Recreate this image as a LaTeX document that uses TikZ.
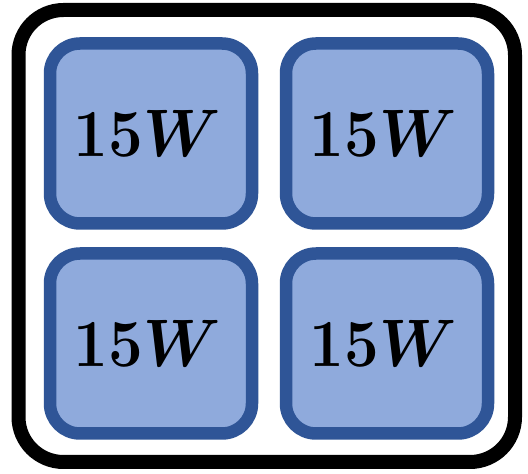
\documentclass[tikz,border=0pt]{standalone}
\usepackage{xcolor}
\usepackage{tikz}
\usepackage{amsmath}
\usetikzlibrary{
  positioning
}
\definecolor{pwFill}{HTML}{8FAADC}
\definecolor{pwEdge}{HTML}{2F5597}
\newcommand{\wattlabel}{\scalebox{2.48}[2.7]{\Huge\boldmath$15W$}}
\tikzset{
  board/.style={
    draw=black, line width=14pt, rounded corners=45pt,
    minimum width=496.5pt, minimum height=452pt, fill=white
  },
  powerbox/.style={
    draw=pwEdge, line width=12.5pt, fill=pwFill, rounded corners=30pt,
    minimum width=202pt, minimum height=180pt, inner sep=0pt, outer sep=0pt,
    label={[xshift=-4pt]center:\wattlabel}
  }
}

\begin{document}
\begin{tikzpicture}[x=1pt, y=1pt, node distance=34pt]
  \useasboundingbox (0,0) rectangle (528,474);
  \node[board] (frame) at (266.75,238) {};
  \node[powerbox] (b1) at (151,340.5) {};
  \node[powerbox, right=of b1] (b2) {};
  \node[powerbox, below=30pt of b1] (b3) {};
  \node[powerbox, right=of b3] (b4) {};
\end{tikzpicture}
\end{document}
